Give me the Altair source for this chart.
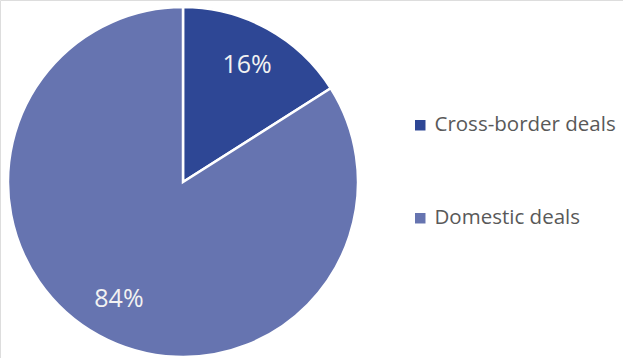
import altair as alt
import pandas as pd

categories = ["Cross-border deals", "Domestic deals"]
values = [16, 84]
labels = ["16%", "84%"]
order = [0, 1]
colors = ["#2e4795", "#6674b0"]

df = pd.DataFrame({"category": categories, "value": values, "label": labels, "order": order})

base = alt.Chart(df).encode(
    theta=alt.Theta("value:Q", stack=True),
    order=alt.Order("order:Q"),
    x=alt.value(183),
    y=alt.value(182),
)

arc = base.mark_arc(outerRadius=175, stroke="white", strokeWidth=2.5).encode(
    color=alt.Color(
        "category:N",
        scale=alt.Scale(domain=categories, range=colors),
        legend=alt.Legend(
            title=None,
            orient="none",
            legendX=410,
            legendY=115,
            symbolType="square",
            symbolSize=110,
            symbolStrokeWidth=0,
            labelFontSize=20.5,
            labelFont="Open Sans",
            labelColor="#595959",
            labelLimit=400,
            rowPadding=72,
            labelOffset=4,
            padding=0,
        ),
    )
)

text = base.mark_text(radius=133, fontSize=25, font="Open Sans", color="#f2f2f2").encode(
    text="label:N"
)

chart = (arc + text).properties(
    width=623, height=358, padding=0, autosize=alt.AutoSizeParams(type="none")
).configure_view(stroke=None).configure(background="white")

chart.save("out.html", embed_options={"renderer": "svg", "actions": False})
